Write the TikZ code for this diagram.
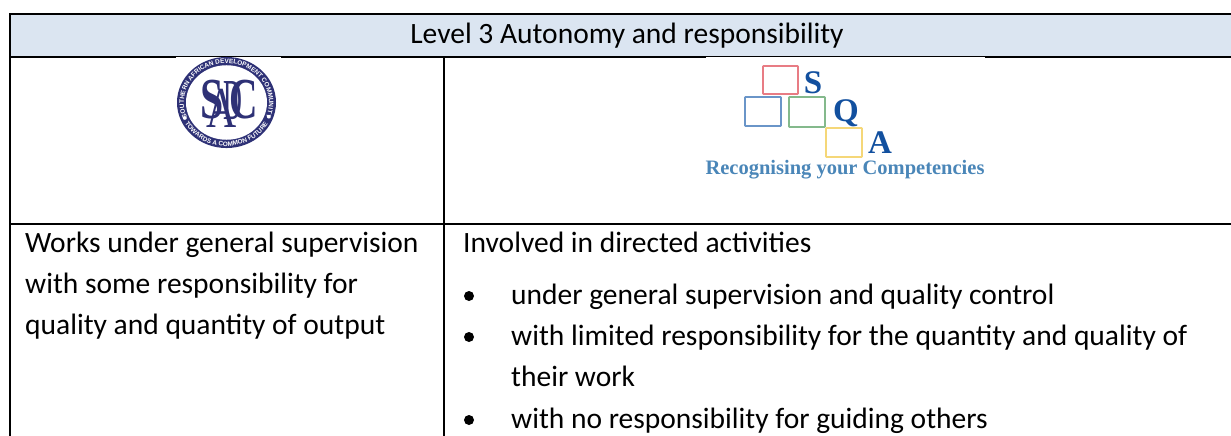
\documentclass[tikz,border=0pt]{standalone}
\usepackage{fontspec}
\setmainfont{Carlito}
\newfontfamily\logoserif{Liberation Serif}
\newfontfamily\logosans{Liberation Sans}
\usetikzlibrary{decorations.text}
\definecolor{headfill}{HTML}{DBE5F1}
\definecolor{navy}{HTML}{2E3176}
\definecolor{sqaletter}{HTML}{12509F}
\definecolor{sqacap}{HTML}{4A86B8}
\definecolor{sqared}{HTML}{E87C84}
\definecolor{sqablue}{HTML}{6A95C8}
\definecolor{sqagreen}{HTML}{84B98C}
\definecolor{sqayellow}{HTML}{F5D778}
\tikzset{
  rule/.style={draw=black,line width=2pt},
  celltext/.style={anchor=base west,inner sep=0pt,font=\fontsize{29.5}{29.5}\selectfont,text=black},
  bulletdot/.style={circle,fill=black,inner sep=0pt,minimum size=10pt},
  sqabox/.style={draw,line width=1.8pt,rounded corners=0.6pt},
  sqaglyph/.style={inner sep=0pt,anchor=base,text=sqaletter,font=\logoserif\bfseries\fontsize{33}{33}\selectfont},
  sadcglyph/.style={inner sep=0pt,text=navy,font=\logoserif\bfseries\fontsize{58}{58}\selectfont},
  sadcthin/.style={inner sep=0pt,text=navy,font=\logoserif\fontsize{58}{58}\selectfont},
}
\begin{document}
\begin{tikzpicture}[x=1pt,y=-1pt]
\useasboundingbox (0,0) rectangle (1231,436);
\fill[white] (0,0) rectangle (1231,436);
\fill[headfill] (10,14) rectangle (1231,57);
\draw[rule] (9,14) -- (1231,14);
\draw[rule] (10,14) -- (10,436);
\draw[rule] (10,57) -- (1231,57);
\draw[rule] (444,57) -- (444,436);
\draw[rule] (10,224) -- (1231,224);
% image edges clip header rule
\fill[white] (706,57.2) rectangle (985,58.2);
\fill[white] (176,57.2) rectangle (281,58.2);
% header
\node[celltext,anchor=base] (head) at (627,44) {Level 3 Autonomy and responsibility};
% left cell
\node[celltext] (l1) at (25,252) {Works under general supervision};
\node[celltext] (l2) at (25,293) {with some responsibility for};
\node[celltext] (l3) at (25,334) {quality and quantity of output};
% right cell
\node[celltext] (r0) at (463,252) {Involved in directed activities};
\node[celltext] (r1) at (511,304) {under general supervision and quality control};
\node[celltext] (r2) at (511,345) {with limited responsibility for the quantity and quality of};
\node[celltext] (r3) at (511,386) {their work};
\node[celltext] (r4) at (511,428) {with no responsibility for guiding others};
\node[bulletdot] (b1) at (469,296) {};
\node[bulletdot] (b2) at (469,337) {};
\node[bulletdot] (b3) at (469,420) {};
% SADC logo
\begin{scope}[shift={(226.5,102.5)},x=1pt,y=.92pt]
  \fill[navy] (0,0) circle (49.5);
  \fill[white] (0,0) circle (40.5);
  \path[decorate,decoration={text along path,text color=white,text align=center,
    text={|\logosans\bfseries\fontsize{6.4}{6.4}\selectfont|SOUTHERN AFRICAN DEVELOPMENT COMMUNITY}}]
    (205:42.5) arc (205:-25:42.5);
  \path[decorate,decoration={text along path,text color=white,text align=center,
    text={|\logosans\bfseries\fontsize{6.4}{6.4}\selectfont|TOWARDS A COMMON FUTURE}}]
    (-155:47.5) arc (-155:-25:47.5);
  \fill[white] (202:45) circle (2) (-20:45) circle (2);
  \node[sadcglyph,xscale=.72] (sS) at (-14,3) {S};
  \node[sadcthin,xscale=.72] (sA) at (-5,-6) {A};
  \node[sadcthin,xscale=.45] (sD) at (6,2) {D};
  \node[sadcglyph,xscale=.68] (sC) at (17,3) {C};
\end{scope}
% SQA logo
\draw[sqabox,draw=sqared] (763,66) rectangle (798,94);
\draw[sqabox,draw=sqablue] (745,97) rectangle (781,126);
\draw[sqabox,draw=sqagreen] (789,97) rectangle (825,127);
\draw[sqabox,draw=sqayellow] (826,128) rectangle (862,157);
\node[sqaglyph] (qs) at (813,93) {S};
\node[sqaglyph] (qq) at (846,121) {Q};
\node[sqaglyph] (qa) at (880,153) {A};
\node[inner sep=0pt,anchor=base,text=sqacap,font=\logoserif\bfseries\fontsize{20.5}{20.5}\selectfont] (cap) at (845,174) {Recognising your Competencies};
\end{tikzpicture}
\end{document}
